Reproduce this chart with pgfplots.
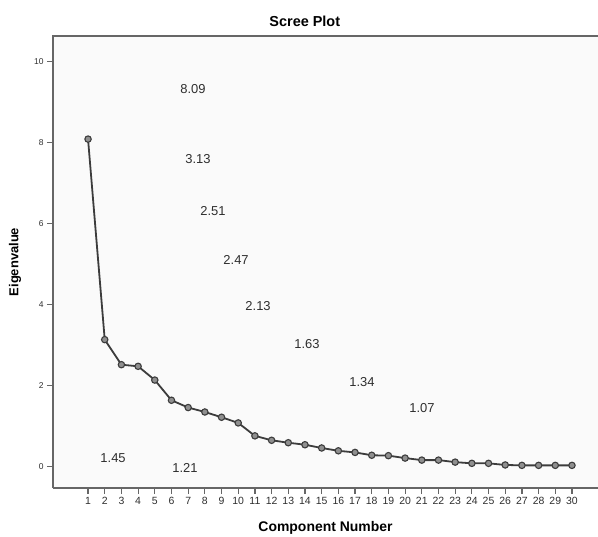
\documentclass[border=0pt]{standalone}
\usepackage{fontspec}
\setmainfont{Liberation Sans}
\usepackage{pgfplots}
\pgfplotsset{compat=1.18}
\usetikzlibrary{calc}
\definecolor{linegray}{HTML}{3C3C3C}
\definecolor{framegray}{HTML}{666666}
\definecolor{bggray}{HTML}{FAFAFA}
\definecolor{markgray}{HTML}{8F8F8F}
\definecolor{textgray}{HTML}{2E2E2E}

\begin{document}
\begin{tikzpicture}
\begin{axis}[
    scale only axis,
    width=545bp, height=452bp,
    xmin=-1.1, xmax=31.56,
    ymin=-0.54, ymax=10.64,
    clip=false,
    axis line style={draw=none},
    axis background/.style={fill=bggray},
    xtick={1,...,30},
    ytick={0,2,4,6,8,10},
    xtick pos=lower, ytick pos=left,
    tick align=outside,
    major tick length=6bp,
    tick style={framegray, line width=1.2bp},
    /pgf/number format/assume math mode=true,
    x tick label style={font=\fontsize{10.5}{10.5}\selectfont, text=textgray},
    y tick label style={font=\fontsize{8.5}{8.5}\selectfont, text=textgray},
    title={Scree Plot},
    title style={at={(axis description cs:0.462,1.019)}, anchor=center,
        font=\bfseries\fontsize{14.5}{14.5}\selectfont},
    xlabel={Component Number},
    xlabel style={at={(axis description cs:0.5,-0.0885)}, anchor=center,
        font=\bfseries\fontsize{14}{14}\selectfont},
    ylabel={Eigenvalue},
    ylabel style={at={(axis description cs:-0.0697,0.5)}, anchor=center,
        font=\bfseries\fontsize{13}{13}\selectfont},
]
\draw[framegray, line width=2bp] (rel axis cs:0,0) -- (rel axis cs:0,1) -- (rel axis cs:1,1);
\draw[framegray, line width=2bp] (rel axis cs:0,0) -- (rel axis cs:1,0);

\addplot[color=linegray, line width=1.8bp, mark=*, mark size=3.2bp,
    mark options={fill=markgray, draw=linegray, line width=1.1bp}]
    coordinates {
    (1,8.09)(2,3.13)(3,2.51)(4,2.47)(5,2.13)(6,1.63)(7,1.45)(8,1.34)(9,1.21)(10,1.07)
    (11,0.75)(12,0.64)(13,0.58)(14,0.53)(15,0.45)(16,0.38)(17,0.34)(18,0.27)(19,0.26)(20,0.20)
    (21,0.15)(22,0.15)(23,0.10)(24,0.07)(25,0.07)(26,0.03)(27,0.02)(28,0.02)(29,0.02)(30,0.02)
    };

\begin{scope}[every node/.style={font=\fontsize{13}{13}\selectfont, text=textgray}]
\node at (axis cs:7.29,9.33) {8.09};
\node at (axis cs:7.59,7.60) {3.13};
\node at (axis cs:8.49,6.32) {2.51};
\node at (axis cs:9.87,5.09) {2.47};
\node at (axis cs:11.19,3.95) {2.13};
\node at (axis cs:14.12,3.01) {1.63};
\node at (axis cs:17.42,2.07) {1.34};
\node at (axis cs:21.01,1.43) {1.07};
\node at (axis cs:2.50,0.20) {1.45};
\node at (axis cs:6.81,-0.05) {1.21};
\end{scope}
\end{axis}
\pgfresetboundingbox
\path ($(current axis.south west)+(-53bp,-49bp)$) rectangle ($(current axis.north east)+(0bp,36bp)$);
\end{tikzpicture}
\end{document}
